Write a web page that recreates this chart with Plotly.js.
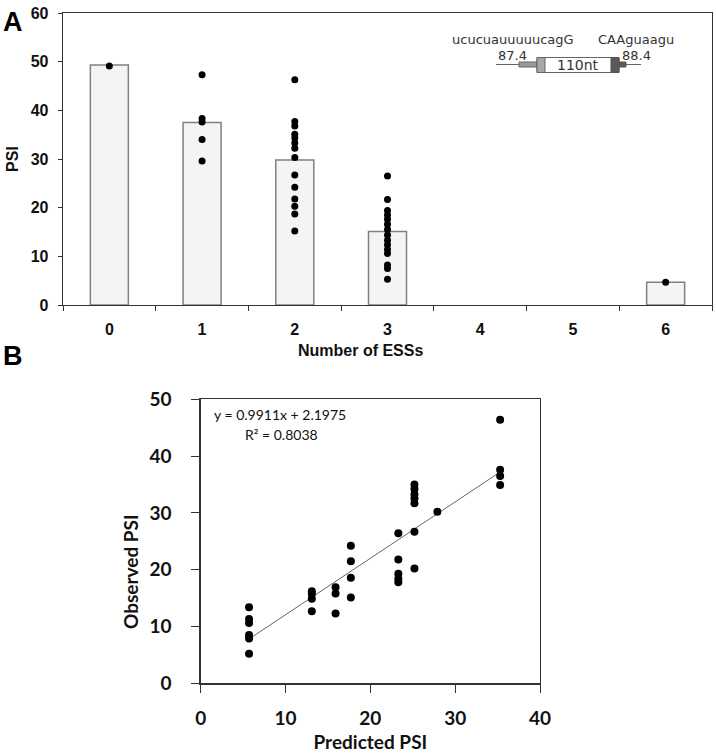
<!DOCTYPE html>
<html>
<head>
<meta charset="utf-8">
<script src="https://cdn.plot.ly/plotly-3.0.1.min.js"></script>
<style>html,body{margin:0;padding:0;background:#fff;}#chart{width:716px;height:753px;}</style>
</head>
<body>
<div id="chart"></div>
<script>
// ---------- Panel A data ----------
const essCategories = ['0', '1', '2', '3', '4', '5', '6'];
const barCategories = ['0', '1', '2', '3', '6'];
const barPSI = [49.3, 37.5, 29.8, 15.1, 4.7];
const dotsESS0 = [49.1];
const dotsESS1 = [47.3, 38.3, 37.6, 34.0, 29.6];
const dotsESS2 = [46.3, 37.7, 36.8, 35.1, 34.3, 33.3, 32.2, 30.3, 26.7, 24.2, 21.8, 20.3, 18.7, 15.2];
const dotsESS3 = [26.5, 21.7, 19.4, 18.5, 17.6, 16.6, 15.5, 14.4, 13.3, 12.4, 11.4, 10.6, 8.2, 7.5, 5.3];
const dotsESS6 = [4.7];

// ---------- Panel B data ----------
const predictedPSI = [5.7, 5.7, 5.7, 5.7, 5.7, 5.7,
  13.1, 13.1, 13.1, 13.1,
  15.9, 15.9, 15.9,
  17.7, 17.7, 17.7, 17.7,
  23.3, 23.3, 23.3, 23.3, 23.3,
  25.2, 25.2, 25.2, 25.2, 25.2, 25.2, 25.2,
  27.9,
  35.3, 35.3, 35.3, 35.3];
const observedPSI = [13.4, 11.3, 10.6, 8.5, 7.9, 5.2,
  16.2, 15.7, 14.9, 12.7,
  16.9, 15.8, 12.3,
  24.2, 21.5, 18.6, 15.1,
  26.4, 21.8, 19.3, 18.4, 17.8,
  35.0, 34.2, 33.3, 32.6, 31.7, 26.7, 20.2,
  30.2,
  46.4, 37.6, 36.5, 34.9];
const trendX = [5.7, 35.3];
const trendY = [7.8, 37.2];
const equationText = 'y = 0.9911x + 2.1975';
const r2Text = 'R² = 0.8038';

// ---------- helpers ----------
const W = 716, H = 753;
const px = x => x / W;
const py = y => 1 - y / H;

function dotsFor(cat, vals) {
  return vals.map(() => cat);
}
const dotX = [].concat(dotsFor('0', dotsESS0), dotsFor('1', dotsESS1), dotsFor('2', dotsESS2), dotsFor('3', dotsESS3), dotsFor('6', dotsESS6));
const dotY = [].concat(dotsESS0, dotsESS1, dotsESS2, dotsESS3, dotsESS6);

const fontAy = {family: 'Liberation Sans, Arial, sans-serif', size: 16, color: '#111', weight: 700};
const fontAx = {family: 'Liberation Sans Narrow, Liberation Sans, Arial, sans-serif', size: 16, color: '#111', weight: 700};
const fontB = {family: 'Lato, Open Sans, sans-serif', size: 19, color: '#111', weight: 700};
const inset = {family: 'DejaVu Sans, sans-serif', size: 13, color: '#333'};

const traces = [
  {type: 'bar', x: barCategories, y: barPSI, xaxis: 'x', yaxis: 'y', width: 0.41,
   marker: {color: '#f4f4f4', line: {color: '#808080', width: 1.5}}, hoverinfo: 'y'},
  {type: 'scatter', mode: 'markers', x: dotX, y: dotY, xaxis: 'x', yaxis: 'y',
   marker: {color: '#000', size: 7}},
  {type: 'scatter', mode: 'lines', x: trendX, y: trendY, xaxis: 'x2', yaxis: 'y2',
   line: {color: '#666', width: 1}},
  {type: 'scatter', mode: 'markers', x: predictedPSI, y: observedPSI, xaxis: 'x2', yaxis: 'y2',
   marker: {color: '#000', size: 8}}
];

const gray = '#333';
const shapes = [
  // gene diagram inset
  {type: 'line', xref: 'paper', yref: 'paper', x0: px(496), x1: px(641), y0: py(64.5), y1: py(64.5), line: {color: '#666', width: 1}},
  {type: 'rect', xref: 'paper', yref: 'paper', x0: px(519), x1: px(537), y0: py(62), y1: py(67), fillcolor: '#9a9a9a', line: {color: '#666', width: 1}},
  {type: 'rect', xref: 'paper', yref: 'paper', x0: px(537), x1: px(619), y0: py(57.5), y1: py(72.5), fillcolor: '#ffffff', line: {color: '#666', width: 1}},
  {type: 'rect', xref: 'paper', yref: 'paper', x0: px(537), x1: px(545), y0: py(57.5), y1: py(72.5), fillcolor: '#a8a8a8', line: {color: '#666', width: 1}},
  {type: 'rect', xref: 'paper', yref: 'paper', x0: px(611), x1: px(619), y0: py(57.5), y1: py(72.5), fillcolor: '#5a5a5a', line: {color: '#555', width: 1}},
  {type: 'rect', xref: 'paper', yref: 'paper', x0: px(619), x1: px(626), y0: py(62), y1: py(67), fillcolor: '#5a5a5a', line: {color: '#555', width: 1}}
];

const annotations = [
  {text: 'A', xref: 'paper', yref: 'paper', x: px(13), y: py(22), showarrow: false, xanchor: 'center', yanchor: 'middle',
   font: {family: 'Liberation Sans, Arial, sans-serif', size: 27, color: '#000', weight: 700}},
  {text: 'B', xref: 'paper', yref: 'paper', x: px(13), y: py(356), showarrow: false, xanchor: 'center', yanchor: 'middle',
   font: {family: 'Liberation Sans, Arial, sans-serif', size: 27, color: '#000', weight: 700}},
  {text: 'Number of ESSs', xref: 'paper', yref: 'paper', x: px(360), y: py(350), showarrow: false, xanchor: 'center', yanchor: 'middle',
   font: {family: 'Liberation Sans Narrow, Liberation Sans, Arial, sans-serif', size: 16, color: '#111', weight: 700}},
  {text: 'Observed PSI', xref: 'paper', yref: 'paper', x: px(130), y: py(572), showarrow: false, xanchor: 'center', yanchor: 'middle', textangle: -90,
   font: fontB},
  {text: 'ucucuauuuuucagG', xref: 'paper', yref: 'paper', x: px(513), y: py(40), showarrow: false, xanchor: 'center', yanchor: 'middle', font: inset},
  {text: 'CAAguaagu', xref: 'paper', yref: 'paper', x: px(636), y: py(40), showarrow: false, xanchor: 'center', yanchor: 'middle', font: inset},
  {text: '87.4', xref: 'paper', yref: 'paper', x: px(512), y: py(55), showarrow: false, xanchor: 'center', yanchor: 'middle', font: inset},
  {text: '88.4', xref: 'paper', yref: 'paper', x: px(636), y: py(55), showarrow: false, xanchor: 'center', yanchor: 'middle', font: inset},
  {text: '110nt', xref: 'paper', yref: 'paper', x: px(578), y: py(65), showarrow: false, xanchor: 'center', yanchor: 'middle', font: {family: 'DejaVu Sans, sans-serif', size: 14, color: '#333'}},
  {text: equationText, xref: 'paper', yref: 'paper', x: px(280), y: py(415), showarrow: false, xanchor: 'center', yanchor: 'middle',
   font: {family: 'Lato, Open Sans, sans-serif', size: 14, color: '#111'}},
  {text: r2Text, xref: 'paper', yref: 'paper', x: px(281), y: py(434), showarrow: false, xanchor: 'center', yanchor: 'middle',
   font: {family: 'Lato, Open Sans, sans-serif', size: 14, color: '#111'}}
];

const layout = {
  width: W, height: H,
  margin: {l: 0, r: 0, t: 0, b: 0},
  paper_bgcolor: '#fff', plot_bgcolor: '#fff',
  showlegend: false,
  xaxis: {domain: [px(63), px(712)], anchor: 'y', type: 'category', categoryorder: 'array', categoryarray: essCategories,
    tickvals: essCategories, ticktext: essCategories,
    range: [-0.5, 6.5], showline: true, mirror: true, linecolor: gray, linewidth: 1.3,
    ticks: 'outside', tickson: 'boundaries', ticklen: 5, tickcolor: gray, ticklabelstandoff: 9,
    showgrid: false, zeroline: false, tickfont: fontAx},
  yaxis: {domain: [py(305), py(13)], anchor: 'x', range: [0, 60], dtick: 10, showline: true, mirror: true,
    linecolor: gray, linewidth: 1.3, ticks: 'outside', ticklen: 4, tickcolor: gray, ticklabelstandoff: 6,
    showgrid: false, zeroline: false, tickfont: fontAy,
    title: {text: 'PSI', standoff: 8, font: {family: 'Liberation Sans, Arial, sans-serif', size: 16, color: '#111', weight: 700}}},
  xaxis2: {domain: [px(200.7), px(540)], anchor: 'y2', range: [0, 40], dtick: 10, showline: true, mirror: true,
    linecolor: gray, linewidth: 1.3, ticks: 'outside', ticklen: 8, tickcolor: gray, ticklabelstandoff: 10,
    showgrid: false, zeroline: false, tickfont: {family: 'Lato, Open Sans, sans-serif', size: 19, color: '#111', weight: 700},
    title: {text: 'Predicted PSI', standoff: 8, font: fontB}},
  yaxis2: {domain: [py(683.3), py(399.3)], anchor: 'x2', range: [0, 50], dtick: 10, showline: true, mirror: true,
    linecolor: gray, linewidth: 1.3, ticks: 'outside', ticklen: 8, tickcolor: gray, ticklabelstandoff: 16,
    showgrid: false, zeroline: false, tickfont: {family: 'Lato, Open Sans, sans-serif', size: 19, color: '#111', weight: 700}},
  shapes: shapes,
  annotations: annotations
};

Plotly.newPlot('chart', traces, layout, {displayModeBar: false, staticPlot: true});
</script>
</body>
</html>
